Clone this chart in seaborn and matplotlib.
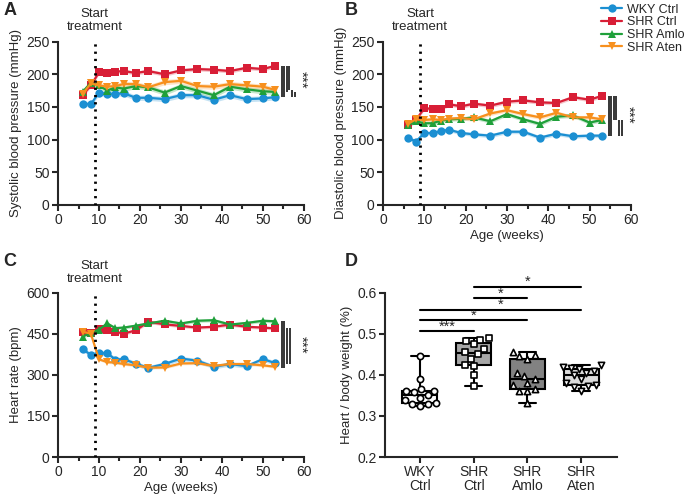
import pandas as pd
import matplotlib.pyplot as plt
import seaborn as sns
from matplotlib.lines import Line2D

# ---- data ----
weeks = [6, 8, 10, 12, 14, 16, 19, 22, 26, 30, 34, 38, 42, 46, 50, 53]
groups = ["WKY Ctrl", "SHR Ctrl", "SHR Amlo", "SHR Aten"]

sbp_wky = [155, 154, 172, 170, 170, 171, 164, 164, 162, 168, 168, 161, 168, 162, 163, 165]
sbp_shr = [168, 183, 203, 202, 204, 205, 202, 205, 200, 206, 208, 207, 205, 210, 208, 213]
sbp_amlo = [173, 187, 183, 175, 180, 178, 182, 180, 172, 182, 175, 168, 181, 177, 174, 173]
sbp_aten = [170, 186, 183, 181, 182, 185, 185, 180, 188, 190, 182, 181, 185, 183, 181, 176]
sbp_sem = [4, 3, 4, 4]

dbp_wky = [103, 97, 110, 110, 113, 115, 110, 108, 106, 112, 112, 103, 109, 105, 106, 106]
dbp_shr = [122, 130, 148, 147, 147, 154, 151, 155, 152, 158, 160, 157, 156, 165, 161, 167]
dbp_amlo = [122, 128, 125, 125, 129, 131, 132, 134, 128, 139, 131, 124, 135, 137, 126, 130]
dbp_aten = [124, 131, 130, 131, 130, 132, 133, 131, 140, 145, 139, 134, 141, 134, 134, 131]
dbp_sem = [3, 3, 3, 3]

hr_wky = [395, 373, 380, 380, 356, 358, 341, 326, 340, 360, 352, 330, 340, 332, 358, 343]
hr_shr = [458, 452, 468, 463, 458, 451, 463, 494, 485, 479, 473, 476, 484, 476, 473, 470]
hr_amlo = [440, 454, 466, 488, 471, 473, 480, 488, 498, 488, 498, 500, 484, 490, 498, 496]
hr_aten = [458, 451, 357, 347, 345, 340, 335, 327, 327, 342, 343, 333, 340, 340, 335, 330]
hr_sem = [8, 6, 6, 5]

# heart / body weight (%) per animal
hbw_wky = [0.447, 0.390, 0.366, 0.362, 0.360, 0.358, 0.350, 0.345, 0.340, 0.332, 0.330, 0.328, 0.325]
hbw_shr = [0.490, 0.486, 0.483, 0.475, 0.462, 0.455, 0.450, 0.440, 0.425, 0.422, 0.400, 0.373]
hbw_amlo = [0.457, 0.448, 0.445, 0.440, 0.405, 0.398, 0.390, 0.380, 0.375, 0.365, 0.362, 0.360, 0.332]
hbw_aten = [0.423, 0.420, 0.418, 0.415, 0.410, 0.405, 0.400, 0.390, 0.380, 0.375, 0.372, 0.370, 0.362]

# significance bars: (week, low, high)
sbp_bars = [(54.6, 165, 213), (55.2, 165, 213), (55.8, 173, 213), (56.4, 176, 213),
            (57.1, 165, 176), (57.7, 165, 173)]
dbp_bars = [(54.7, 106, 167), (55.3, 106, 167), (55.9, 130, 167), (56.5, 130, 167),
            (57.2, 106, 130), (57.8, 106, 130)]
hr_bars = [(54.6, 326, 498), (55.2, 326, 498), (55.9, 340, 470), (56.6, 340, 470)]
# heart weight comparisons: (group a, group b, y, label)
hbw_comps = [(0, 1, 0.506, "***"), (0, 2, 0.533, "*"), (0, 3, 0.559, "*"),
             (1, 2, 0.587, "*"), (1, 3, 0.615, "*")]

colors = {"WKY Ctrl": "#1b8fd2", "SHR Ctrl": "#d81e36",
          "SHR Amlo": "#1fa03a", "SHR Aten": "#f7901e"}
markers = {"WKY Ctrl": "o", "SHR Ctrl": "s", "SHR Amlo": "^", "SHR Aten": "v"}
box_colors = ["white", "#a6a6a6", "#828282", "#dcdcdc"]

sns.set_style("ticks")
plt.rcParams["font.family"] = ["Liberation Sans", "DejaVu Sans"]
plt.rcParams["font.size"] = 9.5
plt.rcParams["axes.labelsize"] = 9.5
plt.rcParams["xtick.labelsize"] = 10
plt.rcParams["ytick.labelsize"] = 10
plt.rcParams["axes.linewidth"] = 1.5
plt.rcParams["xtick.major.width"] = 1.5
plt.rcParams["ytick.major.width"] = 1.5
plt.rcParams["xtick.minor.width"] = 1.5
plt.rcParams["xtick.major.size"] = 4
plt.rcParams["ytick.major.size"] = 4
plt.rcParams["xtick.minor.size"] = 3
plt.rcParams["xtick.major.pad"] = 2
plt.rcParams["ytick.major.pad"] = 2


def long_df(series):
    rows = []
    for g, vals in zip(groups, series):
        for w, v in zip(weeks, vals):
            rows.append({"week": w, "value": v, "group": g})
    return pd.DataFrame(rows)


def time_panel(ax, series, sem, ymax, yticks, ylabel, bars, star_y, xlabel=True):
    df = long_df(series)
    for g, vals, s in zip(groups, series, sem):
        ax.fill_between(weeks, [v - s for v in vals], [v + s for v in vals],
                        color=colors[g], alpha=0.25, lw=0)
    sns.lineplot(data=df, x="week", y="value", hue="group", style="group",
                 hue_order=groups, style_order=groups, palette=colors,
                 markers=markers, dashes=False, markersize=6,
                 markeredgewidth=0, linewidth=1.6, legend=False, ax=ax)
    ax.axvline(9, color="black", lw=2, dashes=(0.8, 1.8), zorder=5)
    ax.set_xlim(0, 60)
    ax.set_ylim(0, ymax)
    ax.set_xticks(range(0, 61, 10))
    ax.set_xticks(range(5, 60, 10), minor=True)
    ax.set_yticks(yticks)
    ax.set_ylabel(ylabel, labelpad=3)
    ax.set_xlabel("Age (weeks)" if xlabel else "", labelpad=2)
    sns.despine(ax=ax)
    for x, lo, hi in bars:
        ax.vlines(x, lo, hi, color="black", lw=1.1, clip_on=False)
    ax.text(59.3, star_y, "***", rotation=270, ha="center", va="center",
            fontsize=11, clip_on=False)
    ax.annotate("Start\ntreatment", xy=(9, 1), xycoords=("data", "axes fraction"),
                xytext=(0, 6), textcoords="offset points", ha="center", va="bottom",
                linespacing=1.1, fontsize=9.5)


fig = plt.figure(figsize=(6.85, 4.96), dpi=100)
ax_a = fig.add_axes([0.0847, 0.587, 0.359, 0.329])
ax_b = fig.add_axes([0.559, 0.587, 0.362, 0.329])
ax_c = fig.add_axes([0.0847, 0.0786, 0.359, 0.331])
ax_d = fig.add_axes([0.562, 0.0786, 0.339, 0.331])

time_panel(ax_a, [sbp_wky, sbp_shr, sbp_amlo, sbp_aten], sbp_sem, 250,
           range(0, 251, 50), "Systolic blood pressure (mmHg)", sbp_bars, 192,
           xlabel=False)
time_panel(ax_b, [dbp_wky, dbp_shr, dbp_amlo, dbp_aten], dbp_sem, 250,
           range(0, 251, 50), "Diastolic blood pressure (mmHg)", dbp_bars, 138)
time_panel(ax_c, [hr_wky, hr_shr, hr_amlo, hr_aten], hr_sem, 600,
           range(0, 601, 150), "Heart rate (bpm)", hr_bars, 410)

# ---- panel D ----
hbw_vals = [hbw_wky, hbw_shr, hbw_amlo, hbw_aten]
df_d = pd.DataFrame([{"group": g, "ratio": v} for g, vals in zip(groups, hbw_vals) for v in vals])
sns.boxplot(data=df_d, x="group", y="ratio", hue="group", order=groups, hue_order=groups,
            palette=box_colors, saturation=1, whis=(0, 100), width=0.65, linewidth=1.5,
            linecolor="black", showfliers=False, legend=False, ax=ax_d)
for g, vals, m in zip(groups, hbw_vals, ["o", "s", "^", "v"]):
    sns.swarmplot(x=[g] * len(vals), y=vals, order=groups, marker=m, color="white",
                  edgecolor="black", linewidth=1.2, size=4.5, ax=ax_d, zorder=3)
ax_d.set_xlim(-0.65, 3.67)
ax_d.set_ylim(0.2, 0.6)
ax_d.set_yticks([0.2, 0.3, 0.4, 0.5, 0.6])
ax_d.set_xticks(range(4))
ax_d.set_xticklabels(["WKY\nCtrl", "SHR\nCtrl", "SHR\nAmlo", "SHR\nAten"],
                     linespacing=1.0)
ax_d.tick_params(axis="x", pad=2)
ax_d.set_xlabel("")
ax_d.set_ylabel("Heart / body weight (%)", labelpad=3)
sns.despine(ax=ax_d)
for a, b, y, lab in hbw_comps:
    ax_d.plot([a, b], [y, y], color="black", lw=1.5, clip_on=False)
    ax_d.text((a + b) / 2, y - 0.006, lab, ha="center", va="bottom", fontsize=10.5,
              clip_on=False)

# legend
handles = [Line2D([], [], color=colors[g], marker=markers[g], markersize=6,
                  markeredgewidth=0, lw=1.6) for g in groups]
fig.legend(handles, groups, loc="upper left", bbox_to_anchor=(0.872, 1.0),
           frameon=False, handlelength=1.7, handletextpad=0.4, labelspacing=0.05,
           fontsize=9, borderaxespad=0.1, borderpad=0.2)

for lab, x, y in [("A", 0.005, 0.995), ("B", 0.503, 0.995),
                  ("C", 0.005, 0.49), ("D", 0.503, 0.49)]:
    fig.text(x, y, lab, fontsize=13, fontweight="bold", va="top", ha="left")

fig.savefig("out.png", dpi=100)
